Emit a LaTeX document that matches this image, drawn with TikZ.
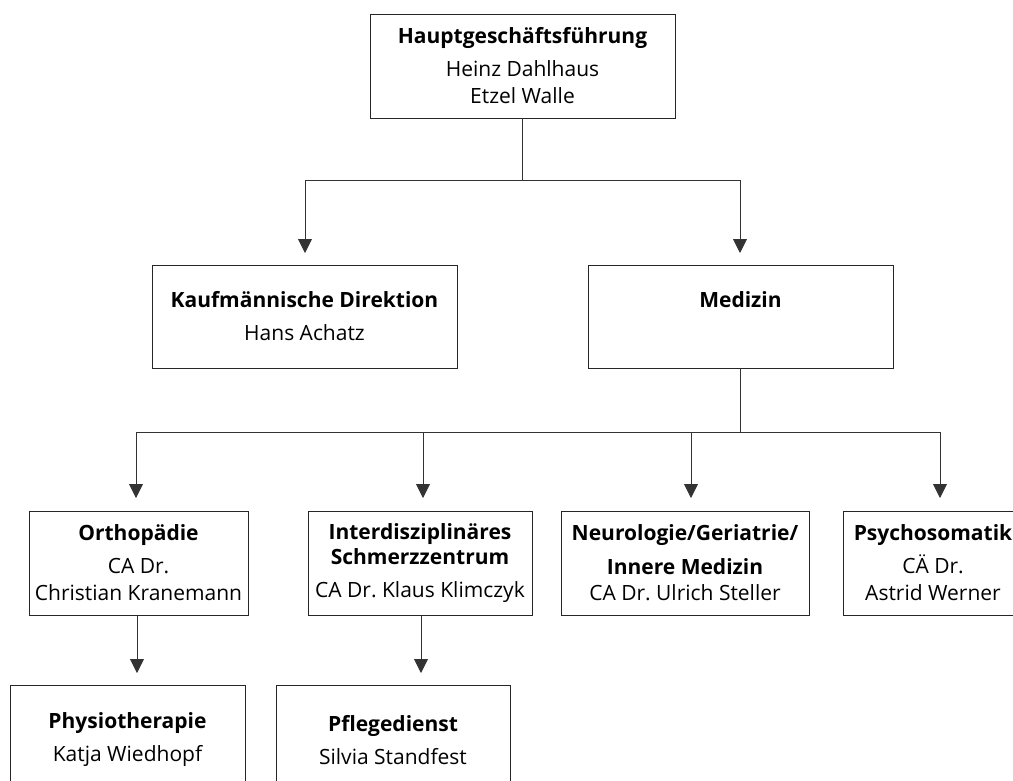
\documentclass[tikz,border=0pt]{standalone}
\usepackage{fontspec}
\setmainfont{Open Sans}
\usetikzlibrary{arrows.meta}
\frenchspacing
\begin{document}
\begin{tikzpicture}[x=1pt,y=-1pt,
  box/.style={draw=black!85, line width=0.9pt, align=center, inner sep=0pt,
    font=\fontsize{21}{27}\selectfont},
  conn/.style={draw=black!80, line width=0.9pt},
  arr/.style={conn, -{Triangle[width=14pt,length=14pt]}}]
\useasboundingbox (0,0) rectangle (1013,780);
\clip (0,0) rectangle (1013,780);
% boxes
\node[box, minimum width=305pt, minimum height=104pt] (top) at (522.5,66)
  {\textbf{Hauptgeschäftsführung}\\[6pt]Heinz Dahlhaus\\Etzel Walle};
\node[box, minimum width=305pt, minimum height=103pt] (kd) at (304.5,316.5)
  {\textbf{Kaufmännische Direktion}\\[6pt]Hans Achatz};
\node[box, minimum width=305pt, minimum height=103pt] (med) at (740.5,316.5)
  {\textbf{Medizin}\\[6pt]\phantom{X}};
\node[box, minimum width=219pt, minimum height=104pt] (orth) at (138.5,563)
  {\textbf{Orthopädie}\\[6pt]CA Dr.\\Christian Kranemann};
\node[box, minimum width=224pt, minimum height=104pt] (isz) at (420,563)
  {\textbf{Interdisziplinäres}\\[-2pt]\textbf{Schmerzzentrum}\\[6pt]CA Dr. Klaus Klimczyk};
\node[box, minimum width=248pt, minimum height=104pt] (neuro) at (685,563)
  {\textbf{Neurologie/Geriatrie/}\\[7pt]\textbf{Innere Medizin}\\[-1pt]CA Dr. Ulrich Steller};
\node[box, minimum width=180pt, minimum height=104pt] (psy) at (933,563)
  {\textbf{Psychosomatik}\\[6pt]CÄ Dr.\\Astrid Werner};
\node[box, minimum width=235pt, minimum height=110pt] (phys) at (127.5,740)
  {\textbf{Physiotherapie}\\[6pt]Katja Wiedhopf};
\node[box, minimum width=234pt, minimum height=110pt] (pfl) at (393,740)
  {\textbf{Pflegedienst}\\[6pt]Silvia Standfest};
% junctions and arrow tips
\coordinate (j1) at (522.5,180);
\coordinate (kdtip) at (305,253);
\coordinate (medtip) at (740,253);
\coordinate (j2) at (740.5,432);
\coordinate (orthtip) at (136,498);
\coordinate (isztip) at (423,498);
\coordinate (neurotip) at (691,498);
\coordinate (psytip) at (940,498);
\coordinate (orthbot) at (137,614.5);
\coordinate (physTip) at (137,673);
\coordinate (iszbot) at (421,614.5);
\coordinate (pflTip) at (421,673);
% connectors
\draw[conn] (top.south) -- (j1);
\draw[arr] (j1) -| (kdtip);
\draw[arr] (j1) -| (medtip);
\draw[conn] (med.south) -- (j2);
\draw[arr] (j2) -| (orthtip);
\draw[arr] (j2) -| (isztip);
\draw[arr] (j2) -| (neurotip);
\draw[arr] (j2) -| (psytip);
\draw[arr] (orthbot) -- (physTip);
\draw[arr] (iszbot) -- (pflTip);
\end{tikzpicture}
\end{document}
